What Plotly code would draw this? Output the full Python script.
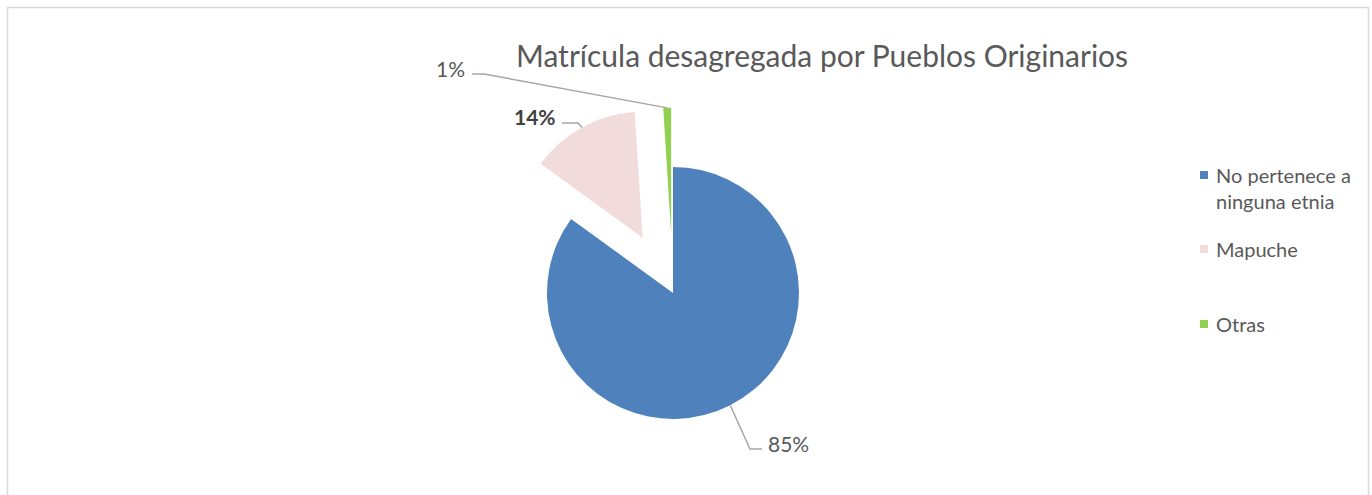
import math
import plotly.graph_objects as go

W, H = 1372, 495

# ---- data ----
categories = ["No pertenece a ninguna etnia", "Mapuche", "Otras"]
legend_labels = ["No pertenece a<br>ninguna etnia", "Mapuche", "Otras"]
values = [85, 14, 1]
colors = ["#4F81BD", "#F2DCDB", "#92D050"]
pulls = [0, 0.5, 0.47]
title_text = "Matrícula desagregada por Pueblos Originarios"

FONT = "Lato"
TXT = "#595959"

# ---- geometry ----
cx, cy, R = 673, 293, 126
half = R * (1 + max(pulls))
dom_x = [(cx - half) / W, (cx + half) / W]
dom_y = [1 - (cy + half) / H, 1 - (cy - half) / H]


def px(x):
    return x / W


def py(y):
    return 1 - y / H


fig = go.Figure()
fig.add_trace(go.Pie(
    labels=categories, values=values, sort=False, direction="clockwise", rotation=0,
    pull=pulls, marker=dict(colors=colors, line=dict(width=0)),
    textinfo="none", hoverinfo="label+percent", showlegend=False,
    domain=dict(x=dom_x, y=dom_y),
))

# slice anchor points (computed from the values)
total = sum(values)
cum = 0
anchors = []
for v, p in zip(values, pulls):
    mid = (cum + v / 2) / total * 2 * math.pi
    cum += v
    d = R * (1 + p)
    anchors.append((cx + d * math.sin(mid), cy - d * math.cos(mid)))

pct = [f"{round(v / total * 100)}%" for v in values]

# label layout: (elbow point, line end, text x, anchor side, bold)
label_layout = [
    ((750, 449), (762, 449), 766, "left", False),
    ((578, 123), (562, 123), 558, "right", True),
    ((484, 74), (472, 74), 467, "right", False),
]

shapes = []
annotations = []
for (ax, ay), (el, en, tx, side, bold), t in zip(anchors, label_layout, pct):
    path = f"M {px(ax)},{py(ay)} L {px(el[0])},{py(el[1])} L {px(en[0])},{py(en[1])}"
    shapes.append(dict(type="path", path=path, xref="paper", yref="paper",
                       line=dict(color="#A6A6A6", width=1.5)))
    annotations.append(dict(
        x=px(tx), y=py(en[1] - 6), xref="paper", yref="paper",
        xanchor=side, yanchor="middle", showarrow=False,
        text=f"<b>{t}</b>" if bold else t,
        font=dict(family=FONT, size=21, color="#404040" if bold else TXT),
    ))

# title
annotations.append(dict(
    x=px(822), y=py(55), xref="paper", yref="paper", xanchor="center", yanchor="middle",
    showarrow=False, text=title_text, font=dict(family=FONT, size=30, color=TXT),
))

# custom legend
leg_y = [187.5, 249, 324]
sq_y = [175, 249, 324]
for lab, col, ty, sy in zip(legend_labels, colors, leg_y, sq_y):
    shapes.append(dict(type="rect", xref="paper", yref="paper",
                       x0=px(1200), x1=px(1208), y0=py(sy - 4), y1=py(sy + 4),
                       fillcolor=col, line=dict(width=0)))
    annotations.append(dict(
        x=px(1214), y=py(ty), xref="paper", yref="paper", xanchor="left", yanchor="middle",
        align="left", showarrow=False, text=lab,
        font=dict(family=FONT, size=20, color=TXT),
    ))

# chart border
shapes.append(dict(type="rect", xref="paper", yref="paper",
                   x0=px(7.5), x1=px(1368.5), y0=py(505), y1=py(7.5),
                   line=dict(color="#D9D9D9", width=1.5), fillcolor="rgba(0,0,0,0)"))

fig.update_layout(
    width=W, height=H, margin=dict(l=0, r=0, t=0, b=0),
    paper_bgcolor="white", plot_bgcolor="white",
    shapes=shapes, annotations=annotations,
)

fig.write_html("out.html", config={"displayModeBar": False},
               post_script="document.body.style.margin='0';document.body.style.overflow='hidden';")
